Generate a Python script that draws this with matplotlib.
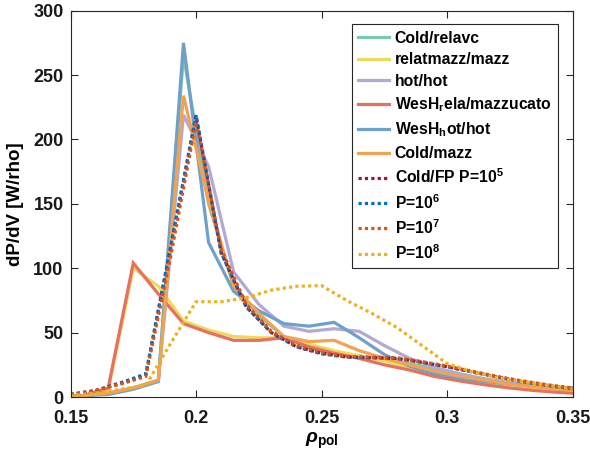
import numpy as np
import matplotlib
matplotlib.use("Agg")
import matplotlib.pyplot as plt

plt.rcParams['font.family'] = ['Liberation Sans', 'DejaVu Sans']
plt.rcParams['font.weight'] = 'bold'
plt.rcParams['mathtext.fontset'] = 'custom'
plt.rcParams['mathtext.rm'] = 'Liberation Sans:bold'
plt.rcParams['mathtext.bf'] = 'Liberation Sans:bold'
plt.rcParams['mathtext.it'] = 'Liberation Sans:italic'

# solid-line grid (bin centres)
rho_solid = [0.145, 0.155, 0.165, 0.175, 0.185, 0.195, 0.205, 0.215, 0.225, 0.235, 0.245,
             0.255, 0.265, 0.275, 0.285, 0.295, 0.305, 0.315, 0.325, 0.335, 0.345, 0.355]
cold_relavc = [0, 1, 3, 7, 13, 265, 150, 86, 63, 47, 38, 34, 32, 29, 26, 22, 18, 14, 11, 8.5, 6.5, 5]
relatmazz_mazz = [0, 1, 5, 100, 86, 59, 52, 47, 46, 46, 41, 36, 32, 28, 23, 18, 14, 11, 8, 6, 4.5, 3.5]
hot_hot = [0, 1, 3, 7, 13, 219, 179, 97, 72, 55, 51, 53, 51, 40, 30, 23, 18, 14, 11, 8.5, 6.5, 5]
wes_rela_mazzucato = [0, 1, 7, 104, 80, 57, 50, 44, 44, 46, 39, 34, 30, 25, 21, 16, 12.5, 9.5, 7, 5, 3.5, 2.5]
wes_hot_hot = [0, 1, 2, 6, 12, 275, 120, 82, 67, 57, 55, 58, 46, 33, 24, 18, 14.5, 12, 10, 8.5, 7.5, 7]
cold_mazz = [0, 1, 3, 7, 13, 234, 152, 86, 65, 47, 43, 44, 36, 30, 25, 20, 16, 13, 10, 8, 6, 5]

# dotted-line grid
rho_fp = [0.15, 0.16, 0.17, 0.18, 0.19, 0.20, 0.21, 0.22, 0.23, 0.24, 0.25,
          0.26, 0.27, 0.28, 0.29, 0.30, 0.31, 0.32, 0.33, 0.34, 0.35]
fp_p5 = [2, 5, 11, 17, 117, 218, 112, 70, 50, 39, 34, 31, 30.5, 30, 27, 23.5, 19.5, 15.5, 12, 9, 6.5]
fp_p6 = [2, 5, 11, 18, 118, 219, 112, 70, 50, 39, 33.5, 31, 30.5, 30, 27, 23.5, 19.5, 15.5, 12, 9, 6.5]
fp_p7 = [2, 5, 10, 16, 110, 214, 115, 72, 51, 40, 34.5, 31.5, 31, 30.5, 27.5, 24, 20, 16, 12.5, 9.5, 7]
fp_p8 = [1, 3, 6, 9, 42, 74, 74, 77, 83, 86, 86.5, 75, 65, 54, 40, 26, 19.5, 15, 12, 9, 6.5]

solid_labels = ['Cold/relavc', 'relatmazz/mazz', 'hot/hot',
                r'WesH$_\mathbf{r}$ela/mazzucato', r'WesH$_\mathbf{h}$ot/hot', 'Cold/mazz']
dotted_labels = [r'Cold/FP P=10$^\mathbf{5}$', r'P=10$^\mathbf{6}$', r'P=10$^\mathbf{7}$', r'P=10$^\mathbf{8}$']

solid_series = [cold_relavc, relatmazz_mazz, hot_hot, wes_rela_mazzucato, wes_hot_hot, cold_mazz]
dotted_series = [fp_p5, fp_p6, fp_p7, fp_p8]
solid_colors = ['#7cc7b2', '#ecda5c', '#b3a9d3', '#e8705f', '#6fa0c8', '#f0a352']
dotted_colors = ['#a2142f', '#0072bd', '#d95319', '#edb120']

fig = plt.figure(figsize=(5.9, 4.63), dpi=100)
ax = fig.add_axes([0.1195, 0.1425, 0.851, 0.8345])

for y, c, lab in zip(solid_series, solid_colors, solid_labels):
    ax.plot(rho_solid, y, color=c, lw=2.3, label=lab, solid_joinstyle='miter')
for y, c, lab in zip(dotted_series, dotted_colors, dotted_labels):
    ax.plot(rho_fp, y, color=c, lw=2.3, ls=(0, (1, 1)), label=lab)

ax.set_xlim(0.15, 0.35)
ax.set_ylim(0, 300)
ax.set_xticks([0.15, 0.2, 0.25, 0.3, 0.35])
ax.set_xticklabels(['0.15', '0.2', '0.25', '0.3', '0.35'])
ax.set_yticks([0, 50, 100, 150, 200, 250, 300])
ax.tick_params(direction='in', top=True, right=True, length=5, width=0.8,
               labelsize=13, colors='#262626')
ax.tick_params(axis='x', pad=9)
ax.tick_params(axis='y', pad=5)
for lab in ax.get_xticklabels() + ax.get_yticklabels():
    lab.set_fontweight('bold')
    lab.set_color('#1a1a1a')
for s in ax.spines.values():
    s.set_color('#262626')
    s.set_linewidth(0.8)

ax.set_xlabel(r'$\rho_{\mathbf{pol}}$', fontsize=14, labelpad=3)
ax.set_ylabel('dP/dV [W/rho]', fontsize=13.5, fontweight='bold', labelpad=7)

leg = ax.legend(loc='upper right', bbox_to_anchor=(0.9705, 0.9645), borderaxespad=0,
                fontsize=11.3, frameon=True, fancybox=False, framealpha=1,
                edgecolor='#262626', handlelength=2.0, handletextpad=0.35,
                labelspacing=0.42, borderpad=0.4)
leg.get_frame().set_linewidth(0.8)
for t in leg.get_texts():
    t.set_fontweight('bold')

fig.savefig('out.png', dpi=100)
